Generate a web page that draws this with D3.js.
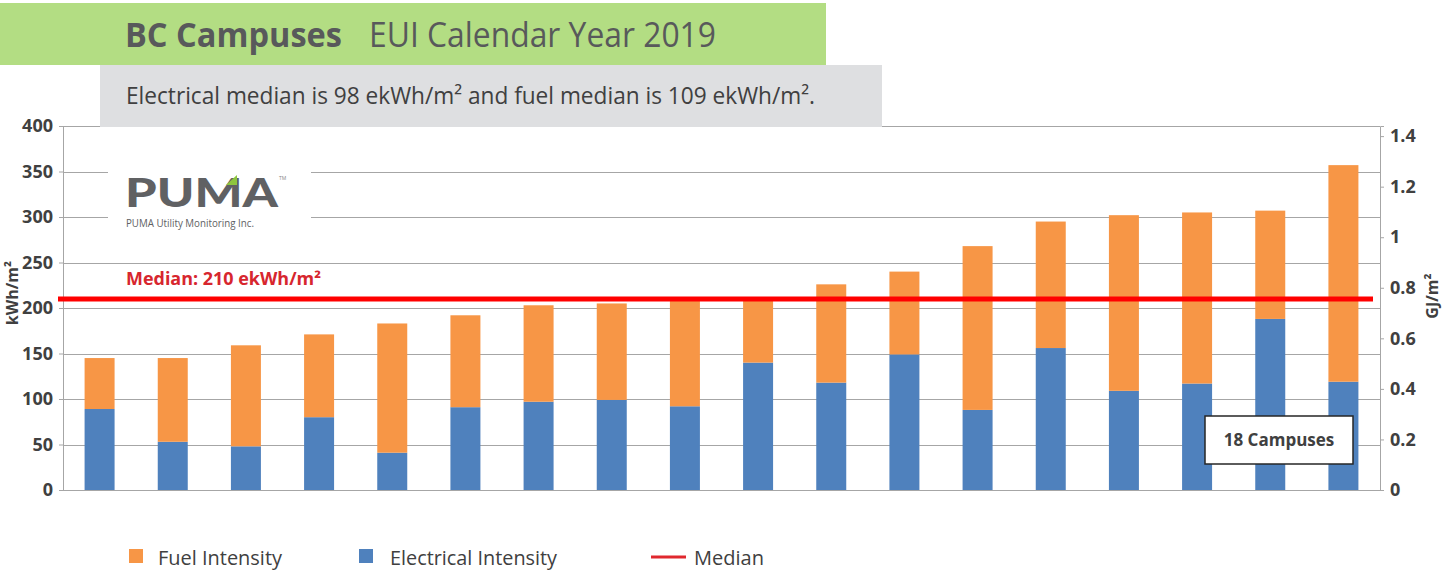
<!DOCTYPE html>
<html>
<head>
<meta charset="utf-8">
<script src="https://cdn.jsdelivr.net/npm/d3@7"></script>
<style>
  body { margin: 0; background: #fff; }
  svg { display: block; font-family: "Open Sans", sans-serif; }
</style>
</head>
<body>
<div id="chart"></div>
<script>
var svgWidth = 1443;
var svgHeight = 572;
var margin = {top: 126, right: 63, bottom: 82, left: 63};
var width = svgWidth - margin.left - margin.right;
var height = svgHeight - margin.top - margin.bottom;

// campuses sorted by total EUI (no names shown on the chart)
var campuses = ["C1", "C2", "C3", "C4", "C5", "C6", "C7", "C8", "C9",
                "C10", "C11", "C12", "C13", "C14", "C15", "C16", "C17", "C18"];
var electrical = [89, 53, 48, 80, 41, 91, 97, 99, 92, 140, 118, 149, 88, 156, 109, 117, 188, 119];
var fuel = [56, 92, 111, 91, 142, 101, 106, 106, 117, 70, 108, 91, 180, 139, 193, 188, 119, 238];
var medianValue = 210;
var leftTicks = [0, 50, 100, 150, 200, 250, 300, 350, 400];
var rightTicks = [0, 0.2, 0.4, 0.6, 0.8, 1, 1.2, 1.4];
var legendItems = ["Fuel Intensity", "Electrical Intensity", "Median"];

var orange = "#f79646";
var blue = "#4f81bd";
var textGray = "#404040";

var svg = d3.select("#chart")
  .append("svg")
  .attr("width", svgWidth)
  .attr("height", svgHeight);

var chart = svg.append("g")
  .attr("transform", "translate(" + margin.left + "," + margin.top + ")");

var x = d3.scaleBand()
  .domain(campuses)
  .range([0, width])
  .paddingInner(0.59)
  .paddingOuter(0.295);

var y = d3.scaleLinear().domain([0, 400]).range([height, 0]);
// 1 kWh = 3.6 MJ, so 400 kWh/m2 = 1.44 GJ/m2
var yGJ = d3.scaleLinear().domain([0, 1.44]).range([height, 0]);

// gridlines
chart.append("g")
  .selectAll("line")
  .data(leftTicks)
  .enter()
  .append("line")
  .attr("x1", 0)
  .attr("x2", width)
  .attr("y1", function(d) { return Math.round(y(d)) + 0.5; })
  .attr("y2", function(d) { return Math.round(y(d)) + 0.5; })
  .attr("stroke", "#a6a6a6")
  .attr("stroke-width", 1);

// left axis
var leftAxis = d3.axisLeft(y).tickValues(leftTicks).tickSize(4).tickPadding(6);
var gl = chart.append("g").call(leftAxis);
gl.select(".domain").attr("stroke", "#a6a6a6");
gl.selectAll(".tick line").attr("stroke", "#a6a6a6");
gl.selectAll("text")
  .attr("font-size", "18px")
  .attr("font-weight", "bold")
  .attr("font-family", "Open Sans")
  .attr("fill", textGray);

// right axis
var rightAxis = d3.axisRight(yGJ).tickValues(rightTicks).tickSize(4).tickPadding(6)
  .tickFormat(function(d) { return d3.format("")(+d.toFixed(1)); });
var gr = chart.append("g")
  .attr("transform", "translate(" + width + ",0)")
  .call(rightAxis);
gr.select(".domain").attr("stroke", "#a6a6a6");
gr.selectAll(".tick line").attr("stroke", "#a6a6a6");
gr.selectAll("text")
  .attr("font-size", "18px")
  .attr("font-weight", "bold")
  .attr("font-family", "Open Sans")
  .attr("fill", textGray);

// stacked bars
var rows = campuses.map(function(c, i) {
  return {campus: c, elec: electrical[i], fuel: fuel[i]};
});
var stack = d3.stack().keys(["elec", "fuel"]);
var series = stack(rows);
var colors = {elec: blue, fuel: orange};

chart.append("g")
  .selectAll("g")
  .data(series)
  .enter()
  .append("g")
  .attr("fill", function(d) { return colors[d.key]; })
  .selectAll("rect")
  .data(function(d) { return d; })
  .enter()
  .append("rect")
  .attr("x", function(d) { return x(d.data.campus); })
  .attr("y", function(d) { return y(d[1]); })
  .attr("width", x.bandwidth())
  .attr("height", function(d) { return y(d[0]) - y(d[1]); });

// median line
chart.append("line")
  .attr("x1", -5)
  .attr("x2", width - 7)
  .attr("y1", y(medianValue))
  .attr("y2", y(medianValue))
  .attr("stroke", "#ff0000")
  .attr("stroke-width", 5);

chart.append("text")
  .attr("x", 63)
  .attr("y", y(medianValue) - 14)
  .attr("font-size", "17px")
  .attr("font-weight", "bold")
  .attr("fill", "#d7262e")
  .attr("textLength", 195)
  .attr("lengthAdjust", "spacingAndGlyphs")
  .text("Median: " + medianValue + " ekWh/m\u00b2");

// logo box
var logo = svg.append("g");
logo.append("rect")
  .attr("x", 108).attr("y", 162).attr("width", 203).attr("height", 60)
  .attr("fill", "#fff");
logo.append("text")
  .attr("x", 125).attr("y", 207)
  .attr("font-family", "Lato")
  .attr("font-weight", 900)
  .attr("font-size", "40px")
  .attr("fill", "#606163")
  .attr("textLength", 153)
  .attr("lengthAdjust", "spacingAndGlyphs")
  .text("PUMA");
logo.append("polygon")
  .attr("points", "226,185 237,175 237,185")
  .attr("fill", "#8dc63f");
logo.append("text")
  .attr("x", 279).attr("y", 180)
  .attr("font-size", "5px")
  .attr("fill", "#888")
  .text("TM");
logo.append("text")
  .attr("x", 126).attr("y", 227)
  .attr("font-size", "10px")
  .attr("fill", "#606163")
  .attr("textLength", 128)
  .attr("lengthAdjust", "spacingAndGlyphs")
  .text("PUMA Utility Monitoring Inc.");

// title band
svg.append("rect")
  .attr("x", 0).attr("y", 3).attr("width", 826).attr("height", 62)
  .attr("fill", "#b3dd83");
svg.append("text")
  .attr("x", 125).attr("y", 47)
  .attr("font-size", "34px")
  .attr("font-weight", "bold")
  .attr("fill", "#58595b")
  .attr("textLength", 217)
  .attr("lengthAdjust", "spacingAndGlyphs")
  .text("BC Campuses");
svg.append("text")
  .attr("x", 369).attr("y", 47)
  .attr("font-size", "34px")
  .attr("fill", "#58595b")
  .attr("textLength", 347)
  .attr("lengthAdjust", "spacingAndGlyphs")
  .text("EUI Calendar Year 2019");

// subtitle box
svg.append("rect")
  .attr("x", 100).attr("y", 65).attr("width", 782).attr("height", 62)
  .attr("fill", "#dedfe1");
svg.append("text")
  .attr("x", 126).attr("y", 104)
  .attr("font-size", "23px")
  .attr("fill", textGray)
  .attr("textLength", 689)
  .attr("lengthAdjust", "spacingAndGlyphs")
  .text("Electrical median is 98 ekWh/m\u00b2 and fuel median is 109 ekWh/m\u00b2.");

// axis titles
svg.append("text")
  .attr("transform", "translate(18,293) rotate(-90)")
  .attr("text-anchor", "middle")
  .attr("font-size", "16px")
  .attr("font-weight", "bold")
  .attr("fill", textGray)
  .text("kWh/m\u00b2");

svg.append("text")
  .attr("transform", "translate(1438,296) rotate(-90)")
  .attr("text-anchor", "middle")
  .attr("font-size", "16px")
  .attr("font-weight", "bold")
  .attr("fill", textGray)
  .text("GJ/m\u00b2");

// campuses count box
svg.append("rect")
  .attr("x", 1205).attr("y", 416).attr("width", 148).attr("height", 48)
  .attr("fill", "#fff")
  .attr("stroke", "#262626")
  .attr("stroke-width", 1.5);
svg.append("text")
  .attr("x", 1279).attr("y", 446)
  .attr("text-anchor", "middle")
  .attr("font-size", "17px")
  .attr("font-weight", "bold")
  .attr("fill", textGray)
  .text(campuses.length + " Campuses");

// legend
var legendX = [129, 359, 651];
var legendTextX = [158, 390, 694];
var legendTextW = [124, 167, 70];
var legend = svg.append("g");
legend.append("rect").attr("x", legendX[0]).attr("y", 549).attr("width", 14).attr("height", 14).attr("fill", orange);
legend.append("rect").attr("x", legendX[1]).attr("y", 549).attr("width", 14).attr("height", 14).attr("fill", blue);
legend.append("line").attr("x1", legendX[2]).attr("x2", legendX[2] + 35)
  .attr("y1", 557).attr("y2", 557).attr("stroke", "#e0282e").attr("stroke-width", 3);
legend.selectAll("text.lg")
  .data(legendItems)
  .enter()
  .append("text")
  .attr("class", "lg")
  .attr("x", function(d, i) { return legendTextX[i]; })
  .attr("y", 565)
  .attr("font-size", "20px")
  .attr("fill", textGray)
  .attr("textLength", function(d, i) { return legendTextW[i]; })
  .attr("lengthAdjust", "spacingAndGlyphs")
  .text(function(d) { return d; });
</script>
</body>
</html>
